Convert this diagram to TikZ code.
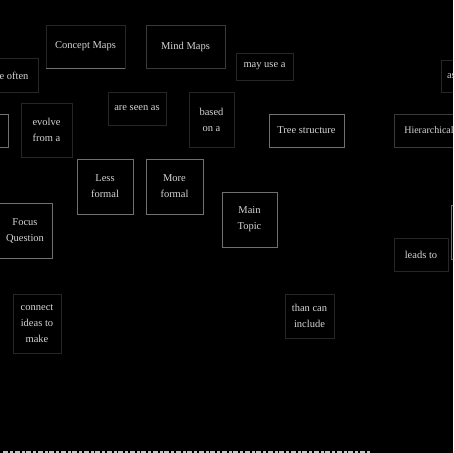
\documentclass[tikz,border=0pt]{standalone}
\usepackage{fontspec}
\setmainfont{Liberation Serif}
\definecolor{txt}{HTML}{D4D4D4}
\definecolor{faintc}{HTML}{262626}
\definecolor{midc}{HTML}{3A3A3A}
\definecolor{strongc}{HTML}{707070}
\begin{document}
\begin{tikzpicture}[x=1pt,y=-1pt,
  basebox/.style={line width=0.6pt, text=txt, font=\fontsize{10.5}{16}\selectfont, align=center, inner sep=0pt},
  faintbox/.style={basebox, draw=faintc},
  midbox/.style={basebox, draw=midc},
  strongbox/.style={basebox, draw=strongc},
  strongline/.style={draw=strongc, line width=0.9pt}]
\useasboundingbox (0,0) rectangle (453,453);
\fill[black] (0,0) rectangle (453,453);
\clip (0,0) rectangle (453,453);

\node[faintbox, minimum width=79pt, minimum height=43pt] (cm) at (85.5,46.5) {Concept Maps};
\draw[strongline] (cm.south west) -- (cm.south east);
\node[midbox, minimum width=79pt, minimum height=43pt] (mm) at (185.5,46.5) {Mind Maps};
\node[faintbox, minimum width=48pt, minimum height=34pt] (often) at (14,75.5) {e often};
\node[faintbox, minimum width=57pt, minimum height=27pt] (mayuse) at (264.5,66.5) {may use a};
\node[faintbox, minimum width=44pt, minimum height=32pt, text width=32pt, align=left] (as) at (463,76) {as};
\node[faintbox, minimum width=58pt, minimum height=33pt] (seen) at (137,108.5) {are seen as};
\node[faintbox, minimum width=45pt, minimum height=55pt] (based) at (211.5,119.5) {based\\on a};
\node[faintbox, minimum width=51pt, minimum height=54pt] (evolve) at (46.5,130) {evolve\\from a};
\node[strongbox, minimum width=38pt, minimum height=33pt] (lp) at (-11,130.5) {};
\node[strongbox, minimum width=75pt, minimum height=33pt] (tree) at (306.5,130.5) {Tree structure};
\node[midbox, minimum width=70pt, minimum height=33pt, font=\fontsize{10}{16}\selectfont] (hier) at (429,130.5) {Hierarchical};
\node[strongbox, minimum width=56pt, minimum height=55pt] (less) at (105,186.5) {Less\\formal};
\node[strongbox, minimum width=57pt, minimum height=55pt] (more) at (174.5,186.5) {More\\formal};
\node[strongbox, minimum width=55pt, minimum height=55pt] (main) at (249.5,219.5) {Main\\Topic};
\node[strongbox, minimum width=54pt, minimum height=55pt] (focus) at (25,230.5) {Focus\\Question};
\node[faintbox, minimum width=54pt, minimum height=33pt] (leads) at (421,254.5) {leads to};
\node[strongbox, minimum width=49pt, minimum height=54pt] (rp) at (475.5,232) {};
\node[faintbox, minimum width=48pt, minimum height=59pt] (connect) at (37,324) {connect\\ideas to\\make};
\node[faintbox, minimum width=49pt, minimum height=44pt] (than) at (309.5,316) {than can\\include};

\draw[gray!45, line width=1.5pt, dash pattern=on 5pt off 2pt on 3pt off 1.5pt] (3,452) -- (370,452);
\end{tikzpicture}
\end{document}
